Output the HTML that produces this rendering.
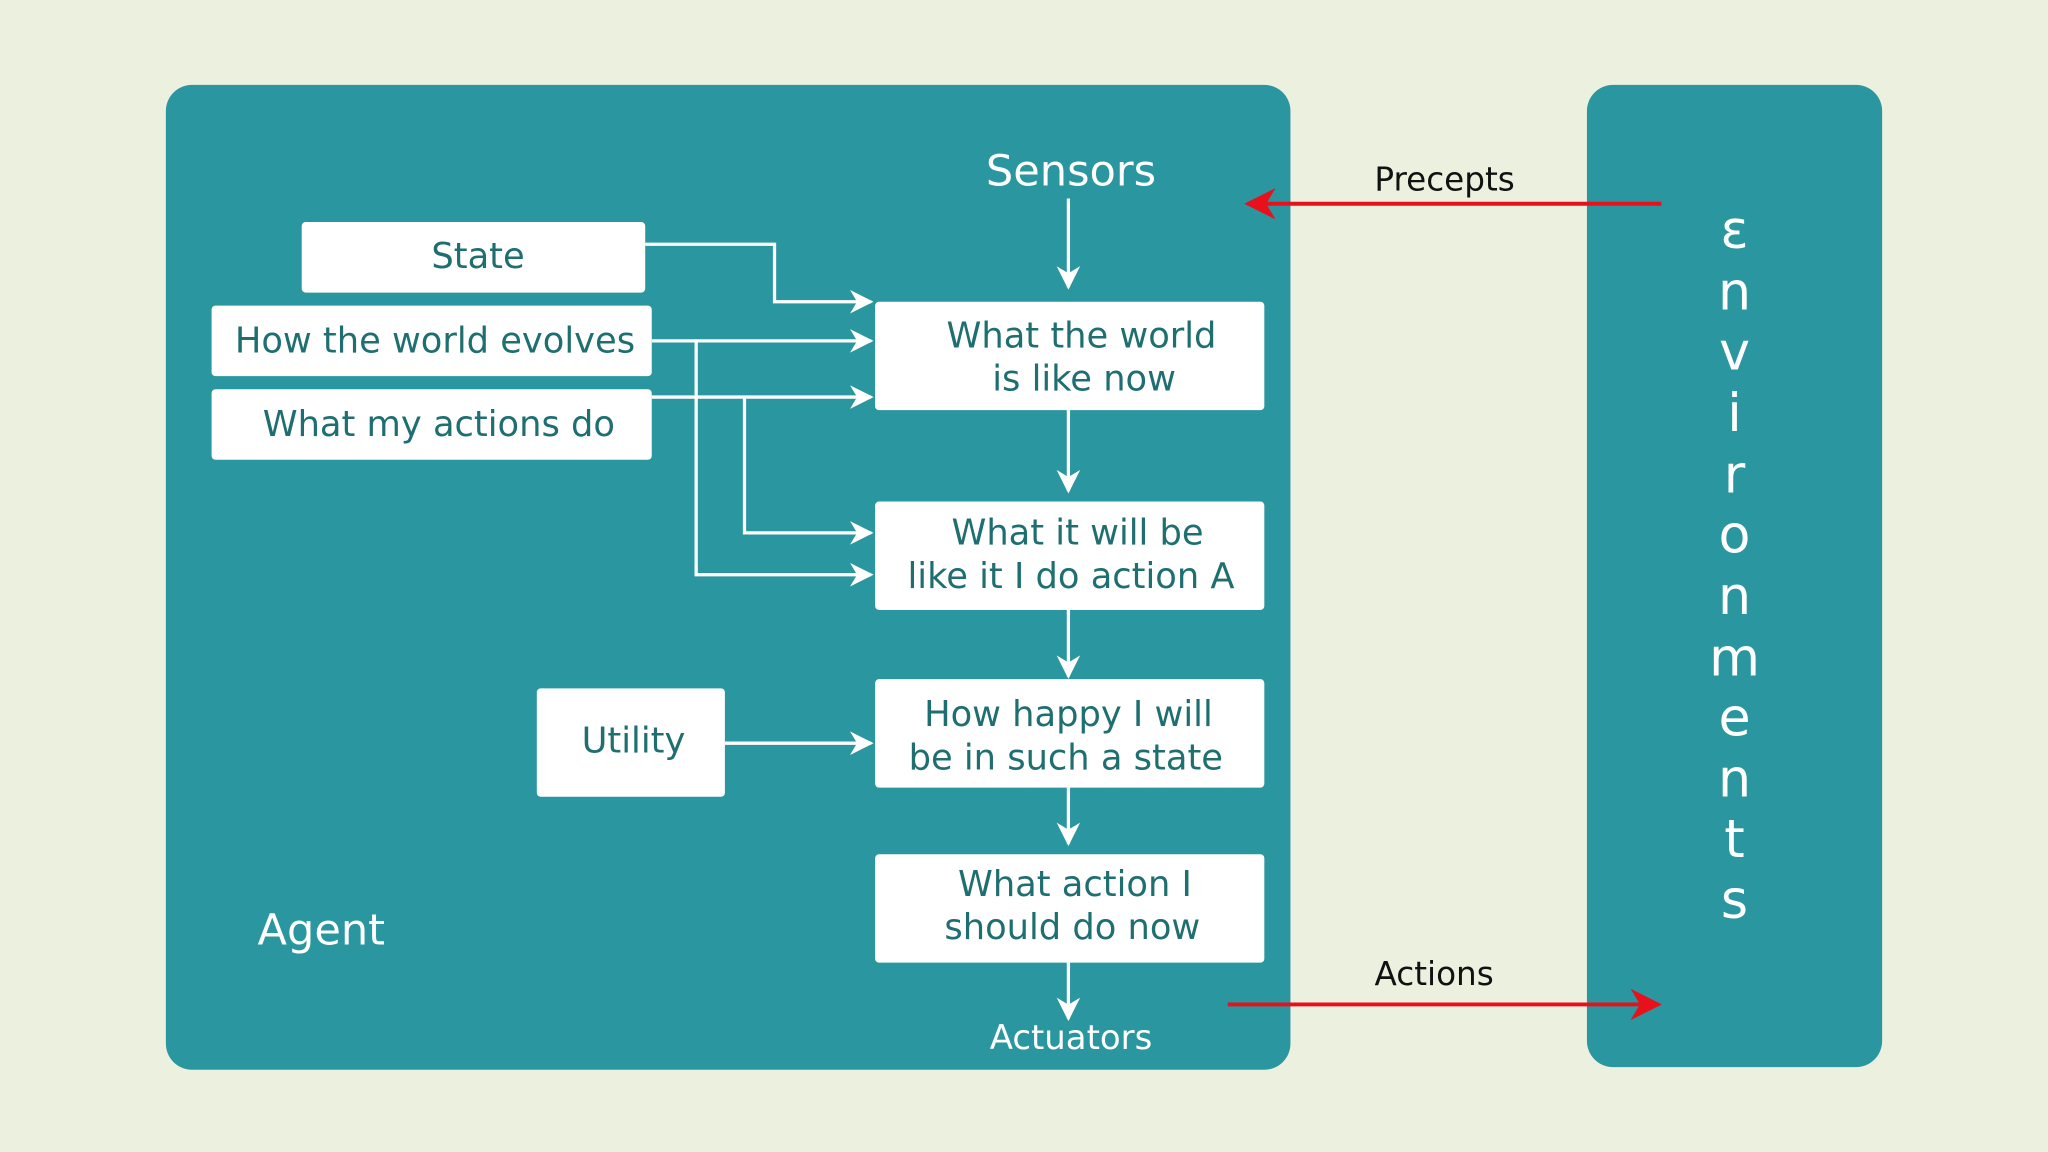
<!DOCTYPE html>
<html><head><meta charset="utf-8"><style>
html,body{margin:0;padding:0;background:#ecf0df;}
svg{display:block;}
text{font-family:"DejaVu Sans","Liberation Sans",sans-serif;}
</style></head><body>
<svg width="2048" height="1152" viewBox="0 0 1568 882" xmlns="http://www.w3.org/2000/svg">
<defs>
<marker id="wa" viewBox="0 0 10 10" refX="9" refY="5" markerWidth="18" markerHeight="18" orient="auto" markerUnits="userSpaceOnUse"><path d="M0,0 L10,5 L0,10 L3,5 Z" fill="#fff"/></marker>
<marker id="r" viewBox="0 0 10 10" refX="9" refY="5" markerWidth="24" markerHeight="24" orient="auto" markerUnits="userSpaceOnUse"><path d="M0,0 L10,5 L0,10 L3,5 Z" fill="#e8101a"/></marker>
</defs>
<rect width="1568" height="882" fill="#ecf0df"/>
<rect x="127" y="65" width="861" height="754" rx="20" fill="#2a96a0"/>
<rect x="1215" y="65" width="226" height="752" rx="20" fill="#2a96a0"/>
<g fill="#fff">
<rect x="231" y="170" width="263" height="54" rx="3"/>
<rect x="162" y="234" width="337" height="54" rx="3"/>
<rect x="162" y="298" width="337" height="54" rx="3"/>
<rect x="670" y="231" width="298" height="83" rx="3"/>
<rect x="670" y="384" width="298" height="83" rx="3"/>
<rect x="670" y="520" width="298" height="83" rx="3"/>
<rect x="670" y="654" width="298" height="83" rx="3"/>
<rect x="411" y="527" width="144" height="83" rx="3"/>
</g>
<g stroke="#fff" stroke-width="2.5" fill="none">
<path d="M818 152 V220" marker-end="url(#wa)"/>
<path d="M494 187 H593 V231 H667" marker-end="url(#wa)"/>
<path d="M499 261 H667" marker-end="url(#wa)"/>
<path d="M533 261 V440 H667" marker-end="url(#wa)"/>
<path d="M499 304 H667" marker-end="url(#wa)"/>
<path d="M570 304 V408 H667" marker-end="url(#wa)"/>
<path d="M818 314 V376" marker-end="url(#wa)"/>
<path d="M818 467 V518" marker-end="url(#wa)"/>
<path d="M818 603 V646" marker-end="url(#wa)"/>
<path d="M818 737 V780" marker-end="url(#wa)"/>
<path d="M555 569 H667" marker-end="url(#wa)"/>
</g>
<g stroke="#e8101a" stroke-width="3" fill="none">
<path d="M1272 156 H955" marker-end="url(#r)"/>
<path d="M940 769 H1270" marker-end="url(#r)"/>
</g>
<g fill="#1f6f70" font-size="27" text-anchor="middle">
<text x="366" y="205">State</text>
<text x="333" y="270">How the world evolves</text>
<text x="336" y="334">What my actions do</text>
<text x="828" y="266">What the world</text>
<text x="830" y="299">is like now</text>
<text x="825" y="417">What it will be</text>
<text x="820" y="450">like it I do action A</text>
<text x="818" y="556">How happy I will</text>
<text x="816" y="589">be in such a state</text>
<text x="823" y="686">What action I</text>
<text x="821" y="719">should do now</text>
<text x="485" y="576">Utility</text>
</g>
<g fill="#fff" text-anchor="middle">
<text x="820" y="142" font-size="33">Sensors</text>
<text x="820" y="803" font-size="26">Actuators</text>
<text x="246" y="723" font-size="33">Agent</text>
</g>
<g fill="#111" font-size="25" text-anchor="middle">
<text x="1106" y="146">Precepts</text>
<text x="1098" y="754">Actions</text>
</g>
<g fill="#fff" font-size="40" text-anchor="middle">
<text x="1328" y="190">ε</text>
<text x="1328" y="237">n</text>
<text x="1328" y="283">v</text>
<text x="1328" y="330">i</text>
<text x="1328" y="377">r</text>
<text x="1328" y="423">o</text>
<text x="1328" y="470">n</text>
<text x="1328" y="517">m</text>
<text x="1328" y="563">e</text>
<text x="1328" y="610">n</text>
<text x="1328" y="656">t</text>
<text x="1328" y="703">s</text>
</g>
</svg>
</body></html>
